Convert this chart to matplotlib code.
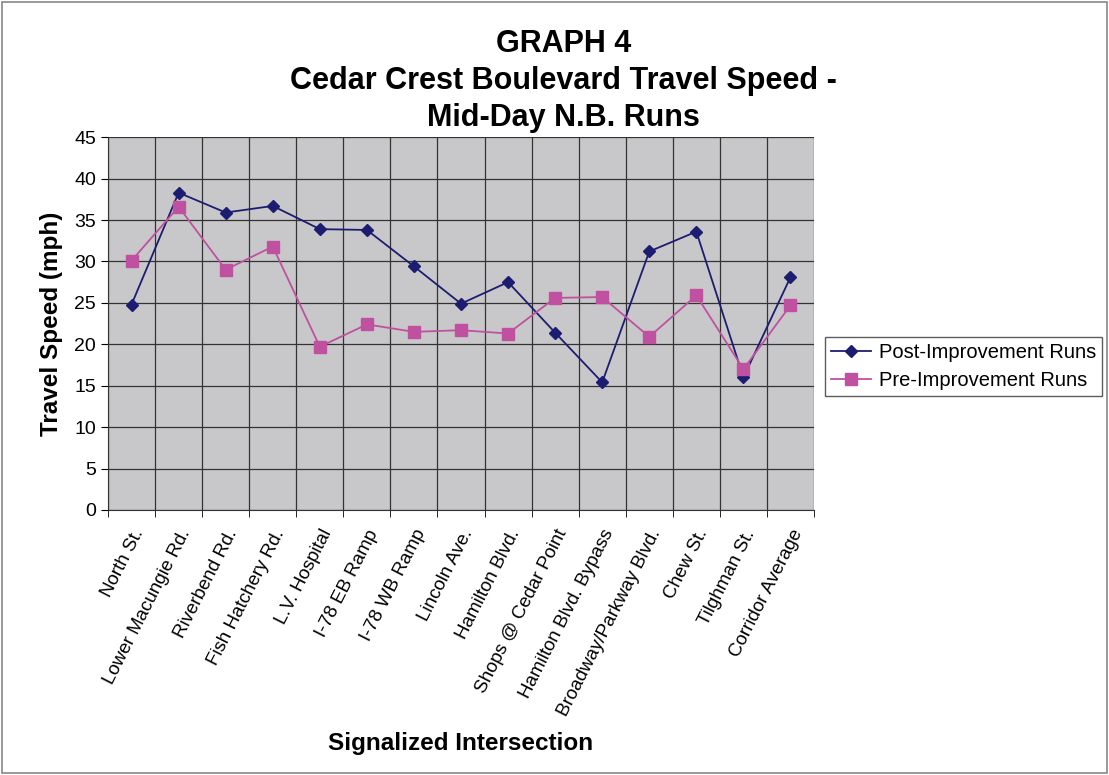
import numpy as np
import matplotlib
matplotlib.use("Agg")
from matplotlib import pyplot as plt
from matplotlib.patches import Rectangle

plt.rcParams['font.family'] = ['Liberation Sans', 'DejaVu Sans']

categories = ["North St.", "Lower Macungie Rd.", "Riverbend Rd.", "Fish Hatchery Rd.",
              "L.V. Hospital", "I-78 EB Ramp", "I-78 WB Ramp", "Lincoln Ave.",
              "Hamilton Blvd.", "Shops @ Cedar Point", "Hamilton Blvd. Bypass",
              "Broadway/Parkway Blvd.", "Chew St.", "Tilghman St.", "Corridor Average"]
post = [24.8, 38.3, 35.9, 36.7, 33.9, 33.8, 29.4, 24.9, 27.5, 21.4, 15.4, 31.2, 33.6, 16.0, 28.1]
pre = [30.1, 36.6, 29.0, 31.8, 19.7, 22.4, 21.5, 21.7, 21.3, 25.6, 25.7, 20.9, 25.9, 17.0, 24.7]

fig = plt.figure(figsize=(11.09, 7.75), dpi=100)
fig.patches.append(Rectangle((0.002, 0.002), 0.996, 0.996, transform=fig.transFigure,
                             fill=False, edgecolor='#888888', linewidth=1.2))
ax = fig.add_axes([0.0974, 0.342, 0.6366, 0.481])
ax.set_facecolor('#C8C8CA')

x = np.arange(len(categories))
ax.plot(x, post, color='#1C1C70', marker='D', markersize=6.5, linewidth=1.3,
        label="Post-Improvement Runs")
ax.plot(x, pre, color='#C050A0', marker='s', markersize=8, linewidth=1.3,
        label="Pre-Improvement Runs")

ax.set_xlim(-0.5, len(categories) - 0.5)
ax.set_ylim(0, 45)
ax.set_yticks(np.arange(0, 46, 5))
ax.set_xticks(x)
ax.set_xticklabels(categories, rotation=63, ha='right', rotation_mode='anchor', fontsize=13.5)
ax.tick_params(axis='x', length=0, pad=12)
ax.set_xticks(np.arange(-0.5, len(categories), 1), minor=True)
ax.tick_params(axis='x', which='minor', length=5, direction='out')
ax.tick_params(axis='y', labelsize=14, length=5)
ax.grid(True, which='major', axis='y', color='#333333', linewidth=0.9)
ax.grid(True, which='minor', axis='x', color='#333333', linewidth=0.9)
for s in ['top', 'right']:
    ax.spines[s].set_visible(False)
ax.spines['left'].set_color('#333333')
ax.spines['bottom'].set_color('#333333')

ax.set_ylabel("Travel Speed (mph)", fontsize=17.5, fontweight='bold', labelpad=8)
ax.set_xlabel("Signalized Intersection", fontsize=17.5, fontweight='bold')
ax.xaxis.set_label_coords(0.5, -0.595)

fig.text(0.508, 0.962, "GRAPH 4\nCedar Crest Boulevard Travel Speed -\nMid-Day N.B. Runs",
         ha='center', va='top', fontsize=22, fontweight='bold', linespacing=1.3)

leg = ax.legend(loc='center left', bbox_to_anchor=(1.015, 0.385), fontsize=14.5,
                frameon=True, fancybox=False, edgecolor='#333333', borderpad=0.3,
                handlelength=2.0, handletextpad=0.4, labelspacing=0.45, borderaxespad=0)
leg.get_frame().set_linewidth(1.0)

fig.savefig("out.png", dpi=100)
